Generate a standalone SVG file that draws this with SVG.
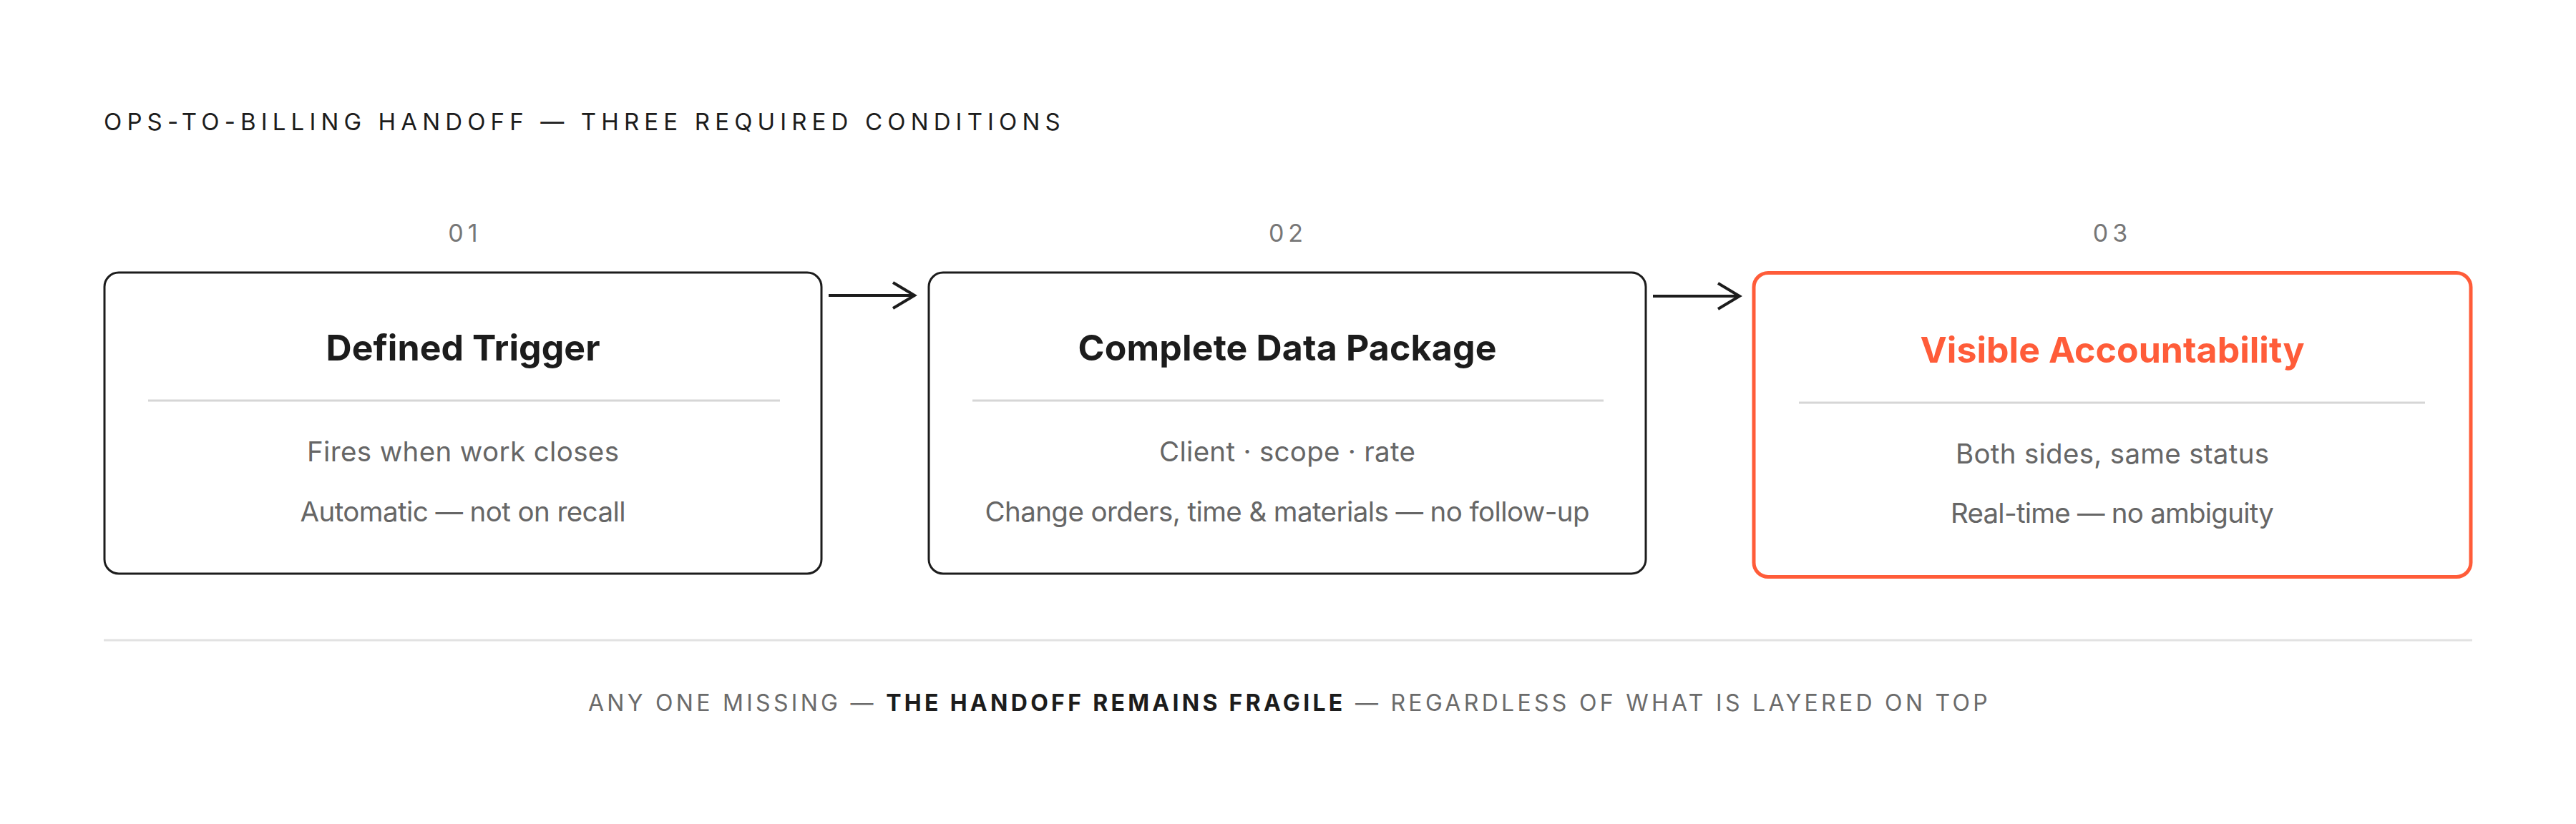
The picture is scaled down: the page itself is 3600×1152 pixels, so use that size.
<svg xmlns="http://www.w3.org/2000/svg" width="3600" height="1152" viewBox="0 0 3600 1152">
<style>
text{font-family:Inter,"Noto Sans","Liberation Sans",sans-serif}
.title{font-size:33px;fill:#1c1c1c;letter-spacing:7.15px}
.num{font-size:34px;fill:#777;letter-spacing:6px;text-anchor:middle}
.box{fill:#fff;stroke:#1c1c1c;stroke-width:3}
.box.accent{stroke:#FF5C39;stroke-width:5}
.head{font-size:50px;font-weight:700;fill:#1c1c1c;text-anchor:middle}
.head.accent{fill:#FF5C39}
.div{stroke:#d6d6d6;stroke-width:3}
.body{font-size:38.5px;fill:#666;text-anchor:middle}
.conn{stroke:#1c1c1c;stroke-width:4;fill:none}
.foot{font-size:32px;fill:#6b6b6b;letter-spacing:4.3px;text-anchor:middle}
.foot .strong{font-weight:700;fill:#1c1c1c}
</style>
<defs>
<marker id="chev" markerUnits="userSpaceOnUse" markerWidth="40" markerHeight="44" viewBox="-34 -22 40 44" refX="0" refY="0" orient="auto">
<path d="M -30 -18 L 0 0 L -30 18" fill="none" stroke="#1c1c1c" stroke-width="4"/>
</marker>
</defs>
<rect width="3600" height="1152" fill="#fff"/>
<text class="title" x="145" y="182">OPS-TO-BILLING HANDOFF — THREE REQUIRED CONDITIONS</text>

<g id="node-01">
<text class="num" x="650" y="338">01</text>
<rect class="box" x="146" y="381" width="1002" height="421" rx="20"/>
<text class="head" x="647" y="504" textLength="383" lengthAdjust="spacing">Defined Trigger</text>
<line class="div" x1="207" y1="560" x2="1090" y2="560"/>
<text class="body" x="647" y="645" textLength="436" lengthAdjust="spacing">Fires when work closes</text>
<text class="body" x="647" y="729" textLength="455" lengthAdjust="spacing">Automatic — not on recall</text>
</g>

<g id="node-02">
<text class="num" x="1800" y="338">02</text>
<rect class="box" x="1298" y="381" width="1002" height="421" rx="20"/>
<text class="head" x="1799" y="504" textLength="585" lengthAdjust="spacing">Complete Data Package</text>
<line class="div" x1="1359" y1="560" x2="2241" y2="560"/>
<text class="body" x="1799" y="645" textLength="358" lengthAdjust="spacing">Client · scope · rate</text>
<text class="body" x="1799" y="729" textLength="845" lengthAdjust="spacing">Change orders, time &amp; materials — no follow-up</text>
</g>

<g id="node-03">
<text class="num" x="2952" y="338">03</text>
<rect class="box accent" x="2451" y="381.5" width="1002" height="425" rx="20"/>
<text class="head accent" x="2952" y="507" textLength="537" lengthAdjust="spacing">Visible Accountability</text>
<line class="div" x1="2514" y1="563" x2="3389" y2="563"/>
<text class="body" x="2952" y="648" textLength="438" lengthAdjust="spacing">Both sides, same status</text>
<text class="body" x="2952" y="731" textLength="452" lengthAdjust="spacing">Real-time — no ambiguity</text>
</g>

<g id="connectors">
<line class="conn" x1="1158" y1="413" x2="1278" y2="413" marker-end="url(#chev)"/>
<line class="conn" x1="2310" y1="414" x2="2431" y2="414" marker-end="url(#chev)"/>
</g>

<line x1="145" y1="895" x2="3455" y2="895" stroke="#e2e2e2" stroke-width="3"/>
<text class="foot" x="1802" y="994">ANY ONE MISSING — <tspan class="strong">THE HANDOFF REMAINS FRAGILE</tspan> — REGARDLESS OF WHAT IS LAYERED ON TOP</text>
</svg>
